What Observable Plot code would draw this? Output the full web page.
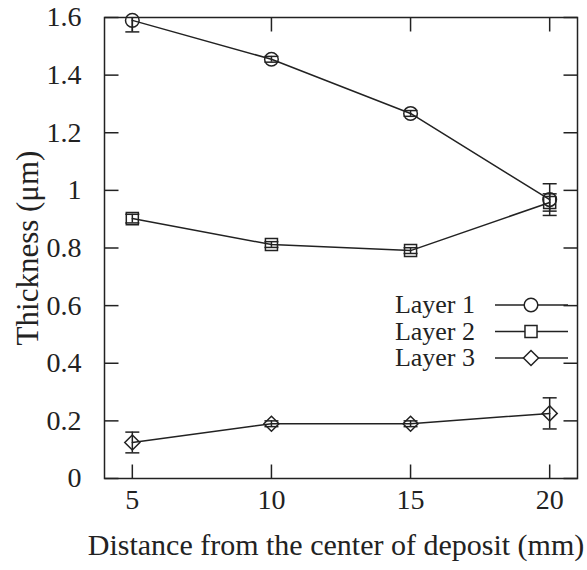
<!DOCTYPE html>
<html>
<head>
<meta charset="utf-8">
<script src="https://cdn.jsdelivr.net/npm/d3@7"></script>
<script src="https://cdn.jsdelivr.net/npm/@observablehq/plot@0.6"></script>
<style>
  html, body { margin: 0; padding: 0; background: white; }
  #chart { width: 587px; height: 570px; }
</style>
</head>
<body>
<div id="chart"></div>
<script>
const distance = [5, 10, 15, 20];
const layerNames = ["Layer 1", "Layer 2", "Layer 3"];
const layer1 = [1.59, 1.455, 1.267, 0.968];
const layer1Err = [0.04, 0.01, 0.01, 0.055];
const layer2 = [0.902, 0.812, 0.791, 0.958];
const layer2Err = [0.015, 0.01, 0.01, 0.03];
const layer3 = [0.125, 0.19, 0.19, 0.226];
const layer3Err = [0.036, 0.01, 0.01, 0.054];
const xTicks = [5, 10, 15, 20];
const yTicks = [0, 0.2, 0.4, 0.6, 0.8, 1, 1.2, 1.4, 1.6];
const xLabel = "Distance from the center of deposit (mm)";
const yLabel = "Thickness (\u03bcm)";

const series = [layer1, layer2, layer3];
const errors = [layer1Err, layer2Err, layer3Err];
const rows = [];
layerNames.forEach((name, i) => {
  distance.forEach((x, j) => rows.push({layer: name, x, y: series[i][j], err: errors[i][j]}));
});

const INK = "#222";
const FONT = "Liberation Serif, DejaVu Serif, serif";
const TL = 14;
const tickSym = (dx, dy) => ({draw(ctx) { ctx.moveTo(0, 0); ctx.lineTo(dx, dy); }});
const capSym = {draw(ctx) { ctx.moveTo(-7, 0); ctx.lineTo(7, 0); }};
const R = 6.8;

const svg = Plot.plot({
  width: 587,
  height: 570,
  marginTop: 17,
  marginRight: 10,
  marginBottom: 92,
  marginLeft: 104,
  style: {fontFamily: FONT, fontSize: "28px", color: INK, background: "white"},
  x: {domain: [4, 21]},
  y: {domain: [0, 1.6]},
  symbol: {domain: layerNames, range: ["circle", "square", "diamond2"]},
  marks: [
    Plot.frame({stroke: INK, strokeWidth: 1.5}),
    Plot.dot(xTicks, {x: d => d, frameAnchor: "bottom", symbol: tickSym(0, -TL), fill: "none", stroke: INK, strokeWidth: 1.5}),
    Plot.dot(xTicks, {x: d => d, frameAnchor: "top", symbol: tickSym(0, TL), fill: "none", stroke: INK, strokeWidth: 1.5}),
    Plot.dot(yTicks, {y: d => d, frameAnchor: "left", symbol: tickSym(TL, 0), fill: "none", stroke: INK, strokeWidth: 1.5}),
    Plot.dot(yTicks, {y: d => d, frameAnchor: "right", symbol: tickSym(-TL, 0), fill: "none", stroke: INK, strokeWidth: 1.5}),
    Plot.axisX({ticks: xTicks, tickSize: 0, tickPadding: 11, label: null, tickFormat: d => String(d), fill: INK, fontFamily: FONT, fontSize: 28}),
    Plot.axisY({ticks: yTicks, tickSize: 0, tickPadding: 23, label: null, tickFormat: d => String(d), fill: INK, fontFamily: FONT, fontSize: 28}),
    Plot.text([xLabel], {text: d => d, frameAnchor: "bottom", lineAnchor: "middle", textAnchor: "middle", dy: 67, dx: -5, fill: INK, fontFamily: FONT, fontSize: 30}),
    Plot.text([yLabel], {text: d => d, frameAnchor: "left", lineAnchor: "middle", textAnchor: "middle", dx: -76, rotate: -90, fill: INK, fontFamily: FONT, fontSize: 31}),
    Plot.line(rows, {x: "x", y: "y", z: "layer", stroke: INK, strokeWidth: 1.5}),
    Plot.ruleX(rows, {x: "x", y1: d => d.y - d.err, y2: d => d.y + d.err, stroke: INK, strokeWidth: 1.5, clip: true}),
    Plot.dot(rows, {x: "x", y: d => d.y + d.err, symbol: capSym, fill: "none", stroke: INK, strokeWidth: 1.5, clip: true}),
    Plot.dot(rows, {x: "x", y: d => d.y - d.err, symbol: capSym, fill: "none", stroke: INK, strokeWidth: 1.5, clip: true}),
    Plot.dot(rows, {x: "x", y: "y", symbol: "layer", r: R, fill: "none", stroke: INK, strokeWidth: 1.5})
  ]
});

// legend inside the plot area
const legendSymbols = [d3.symbolCircle, d3.symbolSquare, d3.symbolDiamond2];
const g = d3.select(svg).append("g")
  .attr("font-family", FONT)
  .attr("font-size", 26);
layerNames.forEach((name, i) => {
  const y = 305 + i * 26.5;
  g.append("text").attr("x", 475).attr("y", y).attr("dy", "0.32em")
    .attr("text-anchor", "end").attr("fill", INK).text(name);
  g.append("line").attr("x1", 495).attr("x2", 568).attr("y1", y).attr("y2", y)
    .attr("stroke", INK).attr("stroke-width", 1.5);
  g.append("path").attr("transform", `translate(531,${y})`)
    .attr("d", d3.symbol(legendSymbols[i], Math.PI * R * R)())
    .attr("fill", "white").attr("stroke", INK).attr("stroke-width", 1.5);
});

document.getElementById("chart").appendChild(svg);
</script>
</body>
</html>
